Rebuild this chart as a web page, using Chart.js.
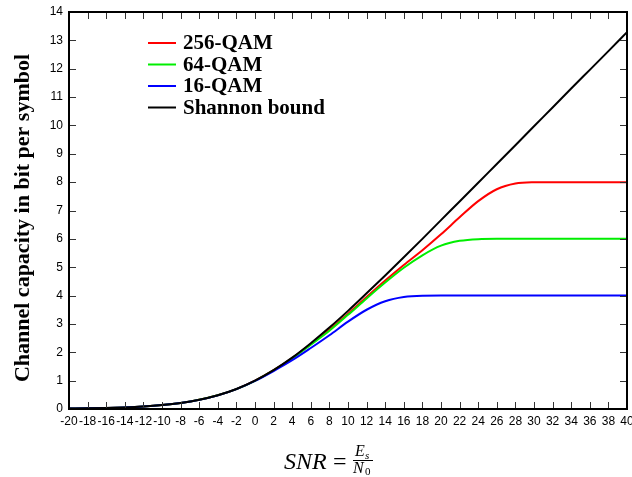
<!DOCTYPE html>
<html>
<head>
<meta charset="utf-8">
<script src="https://cdn.jsdelivr.net/npm/chart.js@4/dist/chart.umd.min.js"></script>
<style>
  html, body { margin: 0; padding: 0; background: #fff; }
  #wrap { width: 632px; height: 477px; position: relative; }
</style>
</head>
<body>
<div id="wrap"><canvas id="capChart" width="632" height="477"></canvas></div>
<script>
// SNR in dB
const snrDb = [-20,-18,-16,-14,-12,-10,-8,-6,-4,-2,0,2,4,6,8,10,12,14,16,18,20,22,24,26,28,30,32,34,36,38,40];

// capacity in bit per symbol
const shannon = [0.014,0.023,0.036,0.056,0.088,0.138,0.212,0.324,0.484,0.706,1.0,1.37,1.81,2.32,2.87,3.46,4.08,4.71,5.35,6.0,6.66,7.32,7.98,8.64,9.3,9.97,10.63,11.3,11.96,12.62,13.29];
const qam256 = [0.014,0.023,0.036,0.056,0.088,0.137,0.211,0.323,0.482,0.703,1.0,1.37,1.8,2.29,2.8,3.36,3.95,4.53,5.08,5.6,6.16,6.76,7.33,7.75,7.95,7.995,8,8,8,8,8];
const qam64 = [0.014,0.023,0.036,0.056,0.088,0.137,0.211,0.323,0.482,0.702,0.995,1.36,1.79,2.27,2.76,3.32,3.9,4.46,4.98,5.42,5.76,5.93,5.99,6,6,6,6,6,6,6,6];
const qam16 = [0.014,0.023,0.036,0.056,0.088,0.137,0.211,0.322,0.48,0.7,0.99,1.34,1.72,2.15,2.6,3.08,3.5,3.8,3.95,3.995,4,4,4,4,4,4,4,4,4,4,4];

const xTicks = snrDb.slice();  // every 2 dB
const yTicks = [0,1,2,3,4,5,6,7,8,9,10,11,12,13,14];

function pts(arr) {
  return snrDb.map((x, i) => ({ x: x, y: arr[i] }));
}

const serif = "'Liberation Serif', 'Times New Roman', serif";
const sans = "'Liberation Sans', Arial, sans-serif";

// inward ticks on all four sides + frame, legend and titles
const frameTicks = {
  id: "frameTicks",
  afterDatasetsDraw(chart) {
    const ctx = chart.ctx;
    const a = chart.chartArea;
    const xs = chart.scales.x, ys = chart.scales.y;
    ctx.save();
    ctx.strokeStyle = "#333";
    ctx.lineWidth = 1;
    ctx.beginPath();
    xTicks.forEach((v) => {
      const px = Math.round(xs.getPixelForValue(v)) + 0.5;
      ctx.moveTo(px, a.bottom); ctx.lineTo(px, a.bottom - 7);
      ctx.moveTo(px, a.top); ctx.lineTo(px, a.top + 7);
    });
    yTicks.forEach((v) => {
      const py = Math.round(ys.getPixelForValue(v)) + 0.5;
      ctx.moveTo(a.left, py); ctx.lineTo(a.left + 7, py);
      ctx.moveTo(a.right, py); ctx.lineTo(a.right - 7, py);
    });
    ctx.stroke();
    ctx.strokeStyle = "#000";
    ctx.lineWidth = 2;
    ctx.strokeRect(a.left, a.top, a.right - a.left, a.bottom - a.top);
    ctx.restore();
  },
  afterDraw(chart) {
    const ctx = chart.ctx;
    ctx.save();
    // legend
    ctx.font = "bold 21px " + serif;
    ctx.textBaseline = "middle";
    ctx.textAlign = "left";
    [0, 1, 2, 3].forEach((di, k) => {
      const ds = chart.data.datasets[di];
      const y = 43 + k * 21.5;
      ctx.strokeStyle = ds.borderColor;
      ctx.lineWidth = 2;
      ctx.beginPath();
      ctx.moveTo(148, y); ctx.lineTo(176, y);
      ctx.stroke();
      ctx.fillStyle = "#000";
      ctx.fillText(ds.label, 183, y + 1);
    });
    // y title
    ctx.save();
    ctx.translate(23, 218);
    ctx.rotate(-Math.PI / 2);
    ctx.textAlign = "center";
    ctx.textBaseline = "middle";
    ctx.font = "bold 22px " + serif;
    ctx.fillText("Channel capacity in bit per symbol", 0, 0);
    ctx.restore();
    // x title: SNR = Es/N0
    ctx.textBaseline = "alphabetic";
    ctx.textAlign = "left";
    ctx.font = "italic 24px " + serif;
    ctx.fillText("SNR", 284, 469);
    ctx.font = "24px " + serif;
    ctx.fillText("=", 333, 469);
    ctx.font = "italic 16px " + serif;
    ctx.fillText("E", 355, 456);
    ctx.font = "italic 11px " + serif;
    ctx.fillText("s", 365, 459);
    ctx.beginPath();
    ctx.lineWidth = 1;
    ctx.strokeStyle = "#000";
    ctx.moveTo(353, 460.5); ctx.lineTo(373, 460.5);
    ctx.stroke();
    ctx.font = "italic 16px " + serif;
    ctx.fillText("N", 353, 473);
    ctx.font = "11px " + serif;
    ctx.fillText("0", 365, 475);
    ctx.restore();
  }
};

const ctx = document.getElementById("capChart").getContext("2d");
const chart = new Chart(ctx, {
  type: "line",
  data: {
    datasets: [
      { label: "256-QAM", data: pts(qam256), borderColor: "#ff0000", order: 3 },
      { label: "64-QAM", data: pts(qam64), borderColor: "#00ee00", order: 2 },
      { label: "16-QAM", data: pts(qam16), borderColor: "#0000ff", order: 1 },
      { label: "Shannon bound", data: pts(shannon), borderColor: "#000000", order: 0 },
    ],
  },
  options: {
    responsive: false,
    animation: false,
    layout: { padding: { left: 0, top: 12, right: 5, bottom: 0 } },
    elements: {
      point: { radius: 0 },
      line: { borderWidth: 2, cubicInterpolationMode: "monotone", fill: false },
    },
    plugins: {
      legend: { display: false },
      tooltip: { enabled: false },
    },
    scales: {
      x: {
        type: "linear",
        min: -20,
        max: 40,
        grid: { display: false, drawTicks: false },
        border: { display: false },
        afterBuildTicks: (s) => { s.ticks = xTicks.map((v) => ({ value: v })); },
        ticks: {
          autoSkip: false,
          maxRotation: 0,
          padding: 5,
          color: "#000",
          font: { family: sans, size: 12 },
        },
        afterFit: (s) => { s.height = 68; s.paddingLeft = 0; s.paddingRight = 0; },
      },
      y: {
        min: 0,
        max: 14,
        grid: { display: false, drawTicks: false },
        border: { display: false },
        afterBuildTicks: (s) => { s.ticks = yTicks.map((v) => ({ value: v })); },
        ticks: {
          padding: 6,
          color: "#000",
          font: { family: sans, size: 12 },
        },
        afterFit: (s) => { s.width = 69; s.paddingTop = 0; s.paddingBottom = 0; },
      },
    },
  },
  plugins: [frameTicks],
});
</script>
</body>
</html>
